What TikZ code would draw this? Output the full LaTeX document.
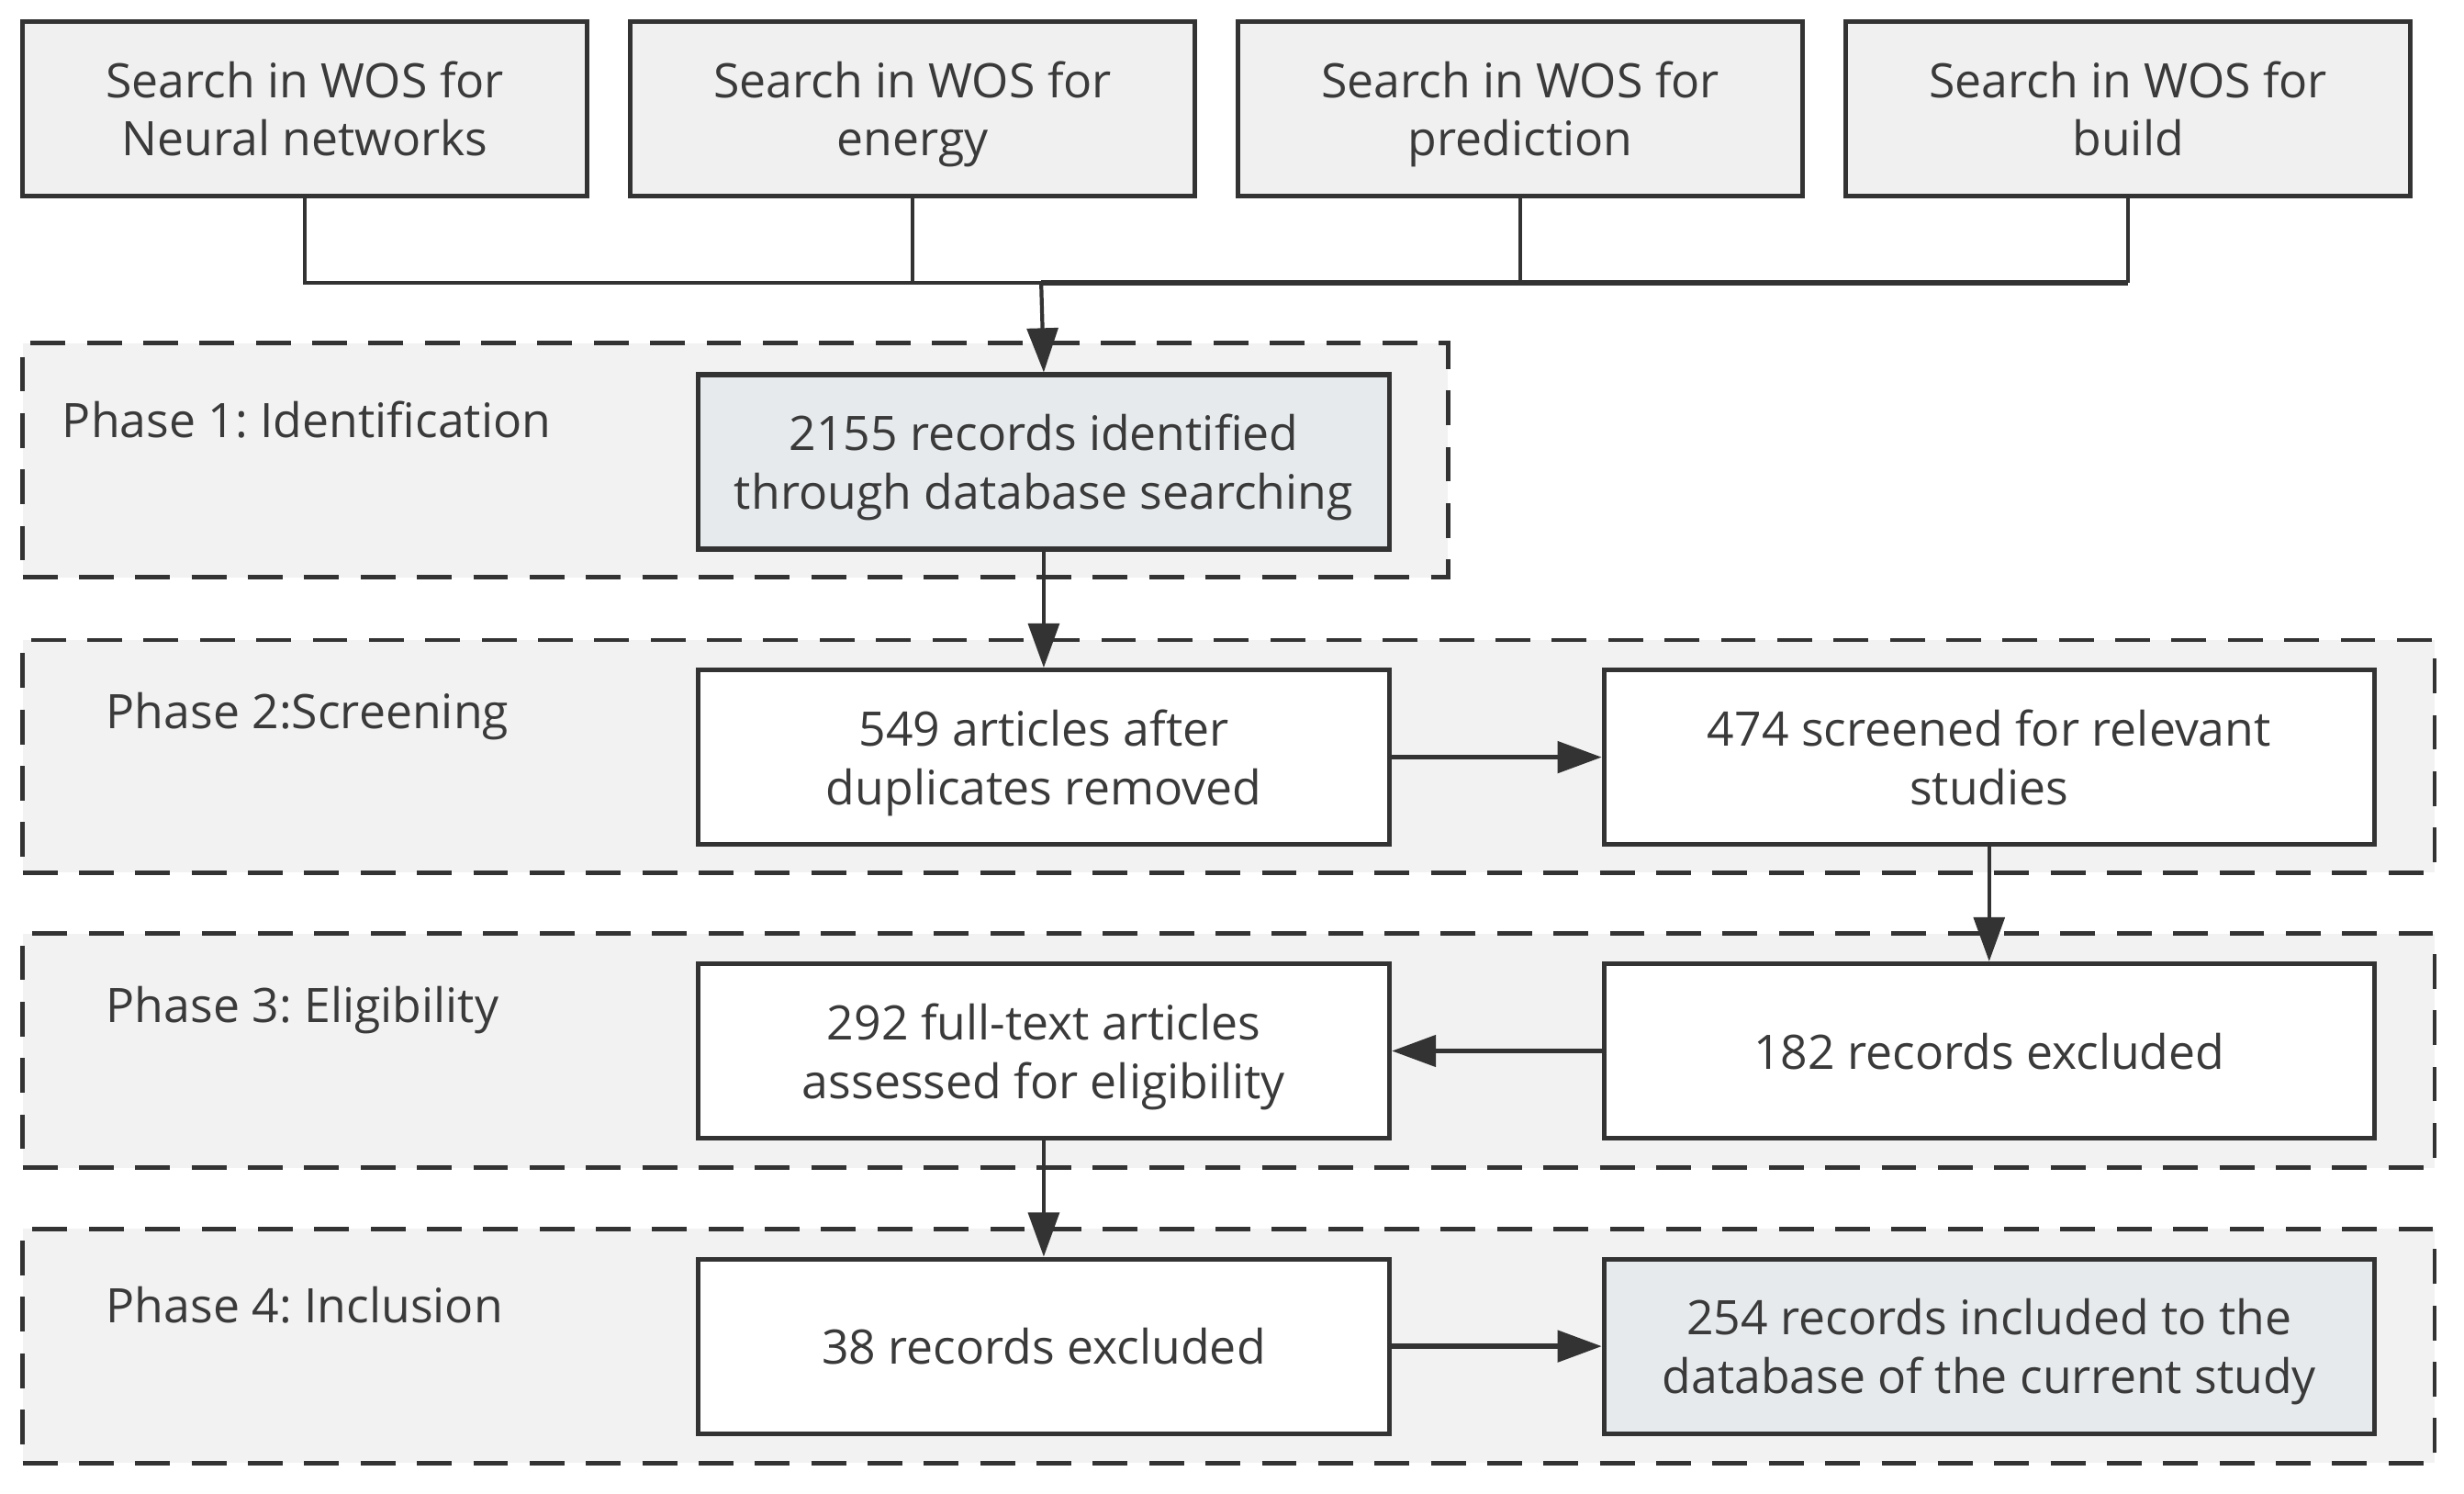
\documentclass[tikz,border=0pt]{standalone}
\usepackage{fontspec}
\setmainfont{Open Sans}
\usetikzlibrary{arrows.meta}
\definecolor{linec}{HTML}{333333}
\definecolor{txtc}{HTML}{3A3A3A}
\definecolor{regfill}{HTML}{F2F2F2}
\definecolor{topfill}{HTML}{F0F0F0}
\definecolor{hifill}{HTML}{E6EAED}
\frenchspacing
\begin{document}
\begin{tikzpicture}[x=0.01cm,y=-0.01cm,
  font=\fontsize{8.6}{10.6}\selectfont, text=txtc,
  region/.style={draw=linec, line width=0.8pt, dash pattern=on 6.3pt off 3.9pt,
    fill=regfill, inner sep=0pt, anchor=north west, minimum width=15.35cm, minimum height=1.49cm},
  box/.style={draw=linec, line width=0.85pt, inner sep=0pt, align=center,
    minimum height=1.11cm, anchor=north west, text depth=0pt, yshift=0pt},
  topbox/.style={box, fill=topfill, minimum width=3.59cm},
  lbox/.style={box, fill=white, minimum width=4.4cm},
  rbox/.style={box, fill=white, minimum width=4.9cm},
  hibox/.style={fill=hifill},
  phase/.style={anchor=west, inner sep=0pt},
  conn/.style={draw=linec, line width=0.7pt},
  arr/.style={conn, -{Triangle[length=8pt,width=5.6pt]}},
  harr/.style={arr, line width=0.95pt}
]
\useasboundingbox (0,0) rectangle (1569,950.6);
\fill[white] (0,0) rectangle (1569,950.6);

% regions
\node[region, minimum width=9.07cm] (r1) at (13,217) {};
\node[region, minimum height=1.48cm] (r2) at (13,406) {};
\node[region] (r3) at (13,593) {};
\node[region] (r4) at (13,781) {};

% phase labels
\node[phase] (p1) at (39,267) {Phase 1: Identification};
\node[phase] (p2) at (67,456) {Phase 2:Screening};
\node[phase] (p3) at (67,643) {Phase 3: Eligibility};
\node[phase] (p4) at (67,831) {Phase 4: Inclusion};

% top boxes
\node[topbox] (t1) at (13,12) {Search in WOS for\\Neural networks};
\node[topbox] (t2) at (400,12) {Search in WOS for\\energy};
\node[topbox] (t3) at (787,12) {Search in WOS for\\prediction};
\node[topbox] (t4) at (1174,12) {Search in WOS for\\build};

% flow boxes
\node[lbox, hibox] (b1) at (443,237) {2155 records identified\\through database searching};
\node[lbox] (b2) at (443,425) {549 articles after\\duplicates removed};
\node[rbox] (b3) at (1020,425) {474 screened for relevant\\studies};
\node[lbox] (b4) at (443,612) {292 full-text articles\\assessed for eligibility};
\node[rbox] (b5) at (1020,612) {182 records excluded};
\node[lbox] (b6) at (443,800) {38 records excluded};
\node[rbox, hibox] (b7) at (1020,800) {254 records included to the\\database of the current study};

% connectors
\coordinate (bus) at (663,180);
\coordinate (busR) at (t4.south |- bus);
\draw[conn] (t1.south) |- (bus);
\draw[conn, line width=0.95pt] (bus) -- (busR);
\draw[conn] (t4.south) -- (busR);
\draw[conn] (t2.south) -- (t2.south |- bus);
\draw[conn] (t3.south) -- (t3.south |- bus);
\draw[arr] (bus) -- (b1.north);
\draw[arr] (b1.south) -- (b2.north);
\draw[harr] (b2.east) -- (b3.west);
\draw[arr] (b3.south) -- (b5.north);
\draw[harr] (b5.west) -- (b4.east);
\draw[arr] (b4.south) -- (b6.north);
\draw[harr] (b6.east) -- (b7.west);
\end{tikzpicture}
\end{document}
